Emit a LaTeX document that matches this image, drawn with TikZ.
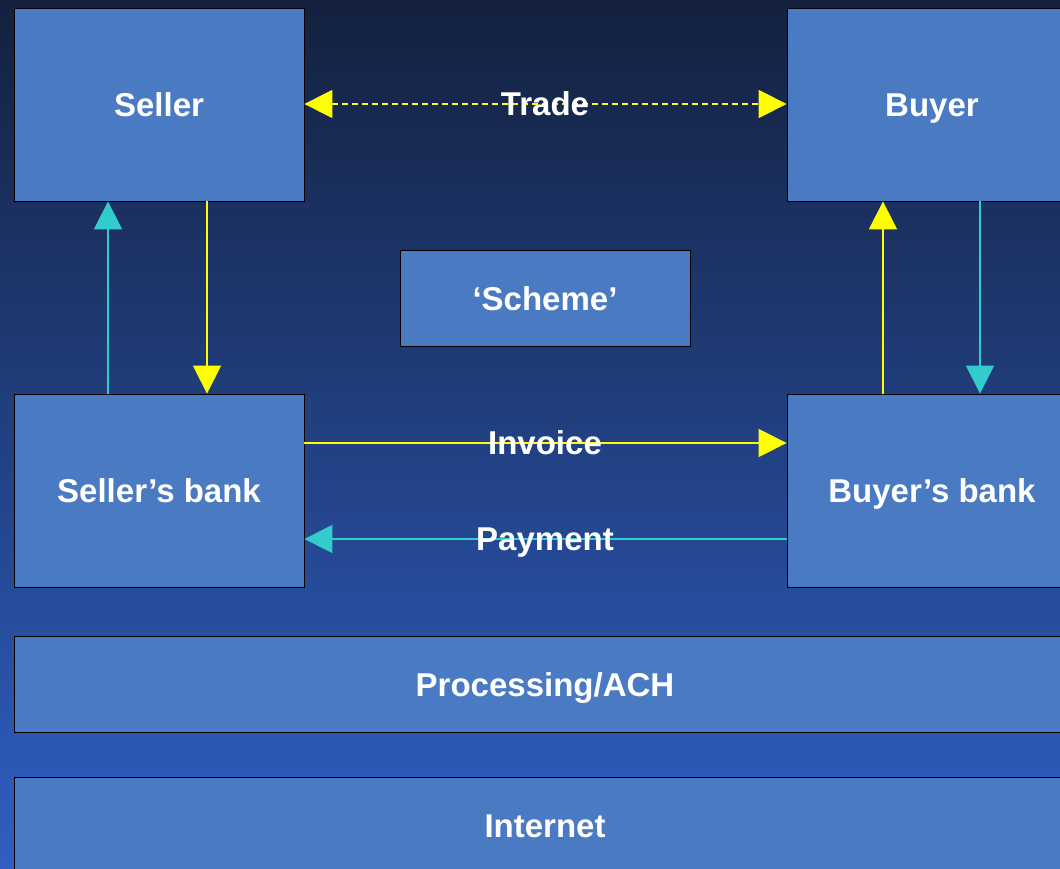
\documentclass[tikz,border=0pt]{standalone}
\usepackage{fontspec}
\setmainfont{Liberation Sans}
\usetikzlibrary{arrows.meta}
\definecolor{boxfill}{HTML}{4A7AC2}
\definecolor{bgtop}{HTML}{14213F}
\definecolor{bgbot}{HTML}{2F5FC4}
\definecolor{cyanarr}{HTML}{33CCCC}
\definecolor{yelarr}{HTML}{FFFF00}
\begin{document}
\begin{tikzpicture}[x=1pt,y=-1pt,
  blk/.style={draw=black,line width=0.8pt,fill=boxfill,text=white,
    font=\fontsize{33}{36}\selectfont\bfseries,inner sep=0pt,
    text height=24pt,text depth=0pt,
    minimum width=290pt,minimum height=193pt},
  wide/.style={blk,minimum width=1062pt,minimum height=96pt},
  lbl/.style={text=white,font=\fontsize{33}{36}\selectfont\bfseries,inner sep=0pt,
    text height=24pt,text depth=0pt},
  yarr/.style={draw=yelarr,line width=1.4pt,-{Triangle[length=28pt,width=28pt]}},
  carr/.style={draw=cyanarr,line width=1.4pt,-{Triangle[length=28pt,width=28pt]}}]
\useasboundingbox (0,0) rectangle (1060,869);
\shade[top color=bgtop,bottom color=bgbot] (0,0) rectangle (1060,869);
\node[blk] (seller) at (159,104.5) {Seller};
\node[blk] (buyer) at (932,104.5) {Buyer};
\node[blk,minimum height=96pt] (scheme) at (545,298) {‘Scheme’};
\node[blk] (sbank) at (159,490.5) {Seller’s bank};
\node[blk] (bbank) at (932,490.5) {Buyer’s bank};
\node[wide] (ach) at (545,684) {Processing/ACH};
\node[wide] (inet) at (545,825) {Internet};
% Trade
\draw[draw=yelarr,line width=1.4pt,dash pattern=on 6pt off 4pt,
  {Triangle[length=28pt,width=28pt]}-{Triangle[length=28pt,width=28pt]}]
  (seller.east |- 0,104) -- (buyer.west |- 0,104);
\node[lbl] (trade) at (545,104) {Trade};
% verticals
\draw[carr] (sbank.north -| 108,0) -- (seller.south -| 108,0);
\draw[yarr] (seller.south -| 207,0) -- (sbank.north -| 207,0);
\draw[yarr] (bbank.north -| 883,0) -- (buyer.south -| 883,0);
\draw[carr] (buyer.south -| 980,0) -- (bbank.north -| 980,0);
% invoice / payment
\draw[yarr] (sbank.east |- 0,443) -- (bbank.west |- 0,443);
\node[lbl] (invoice) at (545,442) {Invoice};
\draw[carr] (bbank.west |- 0,539) -- (sbank.east |- 0,539);
\node[lbl] (payment) at (545,538) {Payment};
\end{tikzpicture}
\end{document}
